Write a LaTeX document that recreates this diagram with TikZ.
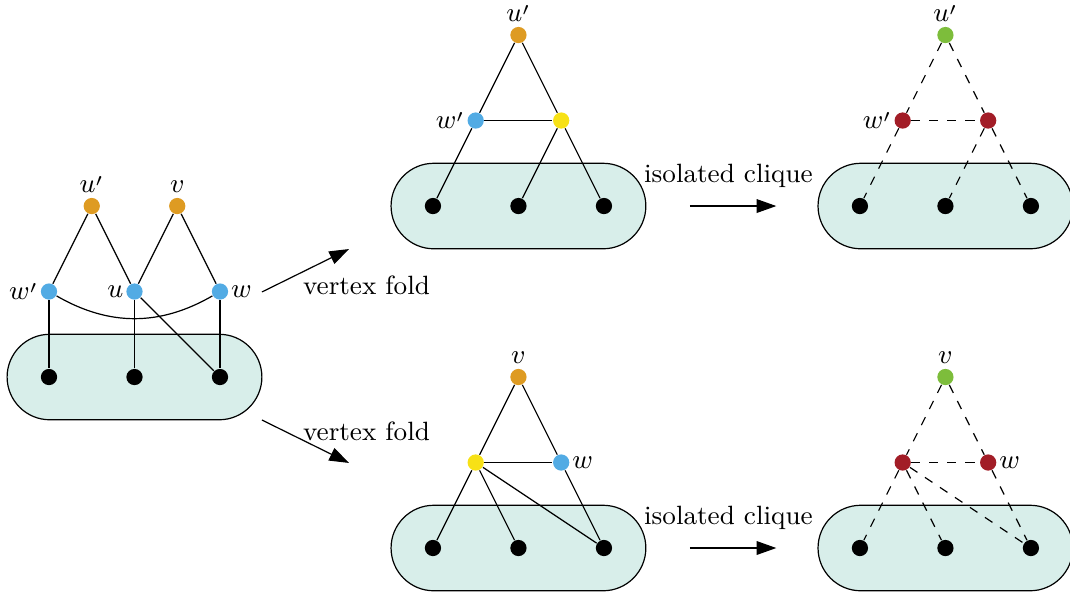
\documentclass[tikz,border=0pt]{standalone}
\usepackage{amsmath}
\usepackage{tikz}
\usetikzlibrary{arrows.meta}

\definecolor{foldorange}{HTML}{DE9B22}
\definecolor{foldblue}{HTML}{52ABE4}
\definecolor{foldyellow}{HTML}{F7E116}
\definecolor{cliquegreen}{HTML}{7DBD3B}
\definecolor{cliquered}{HTML}{A21D27}
\definecolor{pillfill}{HTML}{D8EEEA}

\newcommand{\foldprime}{^{\raisebox{-1.6pt}{$\scriptstyle\prime$}}}

\tikzset{
  vtx/.style={circle, fill=#1, inner sep=0pt, minimum size=0.19cm},
  vtx/.default=black,
  every label/.style={inner sep=0.6pt},
  toplbl/.style={label={[inner sep=1.3pt]above:#1}},
  pill/.style={draw, fill=pillfill, rounded corners=0.5cm},
  bigarrow/.style={-{Triangle[length=2.3mm,width=1.6mm]}},
}

\begin{document}
\begin{tikzpicture}[font=\fontsize{8.8}{10.5}\selectfont]
    \useasboundingbox (0,0) rectangle (12.515,6.971);

    % Original graph
    \begin{scope}[shift={(0.573,2.561)}]
        \draw[pill] (-0.49,-0.5) rectangle (2.49,0.5);
        \node[vtx] (lb1) at (0,0) {};
        \node[vtx] (lb2) at (1,0) {};
        \node[vtx] (lb3) at (2,0) {};
        \node[vtx=foldblue, label=left:$w\foldprime$] (lwp) at (0,1) {};
        \node[vtx=foldblue, label=left:$u$] (lu) at (1,1) {};
        \node[vtx=foldblue, label=right:$w$] (lw) at (2,1) {};
        \node[vtx=foldorange, toplbl=$u\foldprime$] (lup) at (0.5,2) {};
        \node[vtx=foldorange, toplbl=$v$] (lv) at (1.5,2) {};

        \draw (lup) -- (lwp);
        \draw (lup) -- (lu);
        \draw (lv) -- (lu);
        \draw (lv) -- (lw);
        \draw (lwp) to[bend right=30] (lw);
        \draw (lwp) -- (lb1);
        \draw (lu) -- (lb2);
        \draw (lu) -- (lb3);
        \draw (lw) -- (lb3);
    \end{scope}

    % Fold of u'
    \begin{scope}[shift={(5.064,4.561)}]
        \draw[pill] (-0.49,-0.5) rectangle (2.49,0.5);
        \node[vtx] (tmb1) at (0,0) {};
        \node[vtx] (tmb2) at (1,0) {};
        \node[vtx] (tmb3) at (2,0) {};
        \node[vtx=foldblue, label=left:$w\foldprime$] (tmw) at (0.5,1) {};
        \node[vtx=foldyellow] (tmy) at (1.5,1) {};
        \node[vtx=foldorange, toplbl=$u\foldprime$] (tmu) at (1,2) {};

        \draw (tmu) -- (tmw);
        \draw (tmu) -- (tmy);
        \draw (tmw) -- (tmy);
        \draw (tmw) -- (tmb1);
        \draw (tmy) -- (tmb2);
        \draw (tmy) -- (tmb3);
    \end{scope}

    \begin{scope}[shift={(10.058,4.561)}]
        \draw[pill] (-0.49,-0.5) rectangle (2.49,0.5);
        \node[vtx] (trb1) at (0,0) {};
        \node[vtx] (trb2) at (1,0) {};
        \node[vtx] (trb3) at (2,0) {};
        \node[vtx=cliquered, label=left:$w\foldprime$] (trw) at (0.5,1) {};
        \node[vtx=cliquered] (try) at (1.5,1) {};
        \node[vtx=cliquegreen, toplbl=$u\foldprime$] (tru) at (1,2) {};

        \draw[dashed] (tru) -- (trw);
        \draw[dashed] (tru) -- (try);
        \draw[dashed] (trw) -- (try);
        \draw[dashed] (trw) -- (trb1);
        \draw[dashed] (try) -- (trb2);
        \draw[dashed] (try) -- (trb3);
    \end{scope}

    % Fold of v
    \begin{scope}[shift={(5.064,0.561)}]
        \draw[pill] (-0.49,-0.5) rectangle (2.49,0.5);
        \node[vtx] (bmb1) at (0,0) {};
        \node[vtx] (bmb2) at (1,0) {};
        \node[vtx] (bmb3) at (2,0) {};
        \node[vtx=foldyellow] (bmy) at (0.5,1) {};
        \node[vtx=foldblue, label=right:$w$] (bmw) at (1.5,1) {};
        \node[vtx=foldorange, toplbl=$v$] (bmv) at (1,2) {};

        \draw (bmv) -- (bmy);
        \draw (bmv) -- (bmw);
        \draw (bmy) -- (bmw);
        \draw (bmy) -- (bmb1);
        \draw (bmy) -- (bmb2);
        \draw (bmy) -- (bmb3);
        \draw (bmw) -- (bmb3);
    \end{scope}

    \begin{scope}[shift={(10.058,0.561)}]
        \draw[pill] (-0.49,-0.5) rectangle (2.49,0.5);
        \node[vtx] (brb1) at (0,0) {};
        \node[vtx] (brb2) at (1,0) {};
        \node[vtx] (brb3) at (2,0) {};
        \node[vtx=cliquered] (bry) at (0.5,1) {};
        \node[vtx=cliquered, label=right:$w$] (brw) at (1.5,1) {};
        \node[vtx=cliquegreen, toplbl=$v$] (brv) at (1,2) {};

        \draw[dashed] (brv) -- (bry);
        \draw[dashed] (brv) -- (brw);
        \draw[dashed] (bry) -- (brw);
        \draw[dashed] (bry) -- (brb1);
        \draw[dashed] (bry) -- (brb2);
        \draw[dashed] (bry) -- (brb3);
        \draw[dashed] (brw) -- (brb3);
    \end{scope}

    % Arrows
    \coordinate (fupS) at (3.064,3.556);
    \coordinate (fupE) at (4.082,4.058);
    \coordinate (fdnS) at (3.064,2.058);
    \coordinate (fdnE) at (4.082,1.556);
    \draw[bigarrow] (fupS) -- (fupE);
    \draw[bigarrow] (fdnS) -- (fdnE);
    \node (fupT) at (4.287,3.637) {vertex fold};
    \node (fdnT) at (4.287,1.93) {vertex fold};

    \coordinate (icupS) at (8.07,4.561);
    \coordinate (icupE) at (9.08,4.561);
    \coordinate (icdnS) at (8.07,0.561);
    \coordinate (icdnE) at (9.08,0.561);
    \draw[bigarrow] (icupS) -- (icupE);
    \draw[bigarrow] (icdnS) -- (icdnE);
    \node (icupT) at (8.52,4.91) {isolated clique};
    \node (icdnT) at (8.52,0.91) {isolated clique};
\end{tikzpicture}
\end{document}
